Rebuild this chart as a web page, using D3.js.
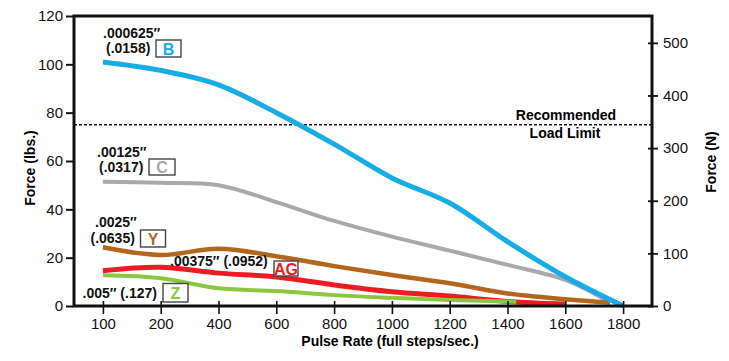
<!DOCTYPE html>
<html>
<head>
<meta charset="utf-8">
<script src="https://cdn.jsdelivr.net/npm/d3@7"></script>
<style>
  body { margin: 0; background: #fff; }
  svg { font-family: "Liberation Sans", Arial, Helvetica, sans-serif; }
</style>
</head>
<body>
<svg id="chart" width="729" height="361"></svg>
<script>
// pulse rate categories (full steps/sec.)
const rates = [100, 200, 400, 600, 800, 1000, 1200, 1400, 1600, 1800];
const lbsTicks = [0, 20, 40, 60, 80, 100, 120];
const newtonTicks = [0, 100, 200, 300, 400, 500];
const loadLimit = 75;

// force curves in lbs
const seriesB = [[100, 101], [200, 97.5], [400, 91.5], [600, 80], [800, 67], [1000, 53], [1200, 42.6], [1400, 26.6], [1600, 12.1], [1800, 0]];
const seriesC = [[100, 51.4], [200, 51], [400, 50], [600, 43], [800, 35.2], [1000, 28.7], [1200, 22.9], [1400, 17], [1600, 10.8], [1745, 2.2]];
const seriesY = [[100, 24.3], [200, 21.1], [400, 23.7], [600, 20.6], [800, 16.5], [1000, 12.8], [1200, 9.4], [1400, 5.2], [1600, 2.8], [1755, 1.4]];
const seriesAG = [[100, 14.6], [200, 16], [400, 13.6], [600, 12], [800, 8.7], [1000, 5.9], [1200, 4.1], [1400, 1.9], [1600, 0.8]];
const seriesZ = [[100, 12.7], [200, 11.5], [400, 7.3], [600, 6.2], [800, 4.5], [1000, 3.4], [1200, 2.5], [1400, 1.9], [1430, 1.8]];

const svg = d3.select('#chart');

const plotLeft = 74, plotRight = 652, plotTop = 16, plotBottom = 306;

const xPoint = d3.scalePoint().domain(rates).range([plotLeft, plotRight]).padding(0.5);
// axis is not linear in rate, so map between the tick positions
const x = d3.scaleLinear().domain(rates).range(rates.map(r => xPoint(r)));
const y = d3.scaleLinear().domain([0, 120]).range([plotBottom, plotTop]);
const yN = d3.scaleLinear().domain([0, 551]).range([plotBottom, plotTop]);

// curves
const line = d3.line()
  .x(d => x(d[0]))
  .y(d => y(d[1]))
  .curve(d3.curveCatmullRom.alpha(0.5));

const curves = [
  { data: seriesC, color: '#a7a9ac', width: 4 },
  { data: seriesY, color: '#b4661c', width: 4.5 },
  { data: seriesAG, color: '#ed1c24', width: 5 },
  { data: seriesZ, color: '#8dc63f', width: 4 },
  { data: seriesB, color: '#17ace6', width: 5 }
];

// dashed load limit
svg.append('line')
  .attr('x1', plotLeft).attr('x2', plotRight)
  .attr('y1', y(loadLimit)).attr('y2', y(loadLimit))
  .attr('stroke', '#111')
  .attr('stroke-width', 1.5)
  .attr('stroke-dasharray', '3,2');

svg.append('text')
  .attr('x', 566).attr('y', 119.5)
  .attr('text-anchor', 'middle')
  .style('font-size', '14px').style('font-weight', 'bold')
  .text('Recommended');
svg.append('text')
  .attr('x', 565).attr('y', 137.5)
  .attr('text-anchor', 'middle')
  .style('font-size', '14px').style('font-weight', 'bold')
  .text('Load Limit');

for (const c of curves) {
  svg.append('path')
    .datum(c.data)
    .attr('d', line)
    .attr('fill', 'none')
    .attr('stroke', c.color)
    .attr('stroke-width', c.width);
}

// frame
svg.append('rect')
  .attr('x', plotLeft).attr('y', plotTop)
  .attr('width', plotRight - plotLeft).attr('height', plotBottom - plotTop)
  .attr('fill', 'none')
  .attr('stroke', '#111')
  .attr('stroke-width', 3);

// left axis
const yAxis = svg.append('g')
  .attr('transform', `translate(${plotLeft - 1},0)`)
  .call(d3.axisLeft(y).tickValues(lbsTicks).tickSize(7).tickPadding(3));
yAxis.select('.domain').remove();
yAxis.selectAll('line').attr('stroke', '#111').attr('stroke-width', 2);
yAxis.selectAll('text').style('font-size', '15px').attr('fill', '#111');

// right axis
const yAxisR = svg.append('g')
  .attr('transform', `translate(${plotRight - 4},0)`)
  .call(d3.axisRight(yN).tickValues(newtonTicks).tickSize(10).tickPadding(5));
yAxisR.select('.domain').remove();
yAxisR.selectAll('line').attr('stroke', '#111').attr('stroke-width', 1.8);
yAxisR.selectAll('text').style('font-size', '15px').attr('fill', '#111');

// bottom axis
const xAxis = svg.append('g')
  .attr('transform', `translate(0,${plotBottom - 5})`)
  .call(d3.axisBottom(xPoint).tickSize(13).tickPadding(4));
xAxis.select('.domain').remove();
xAxis.selectAll('line').attr('stroke', '#111').attr('stroke-width', 1.6);
xAxis.selectAll('text').style('font-size', '15px').attr('fill', '#111');

// axis titles
svg.append('text')
  .attr('x', 390).attr('y', 346)
  .attr('text-anchor', 'middle')
  .style('font-size', '14px').style('font-weight', 'bold')
  .text('Pulse Rate (full steps/sec.)');

svg.append('text')
  .attr('transform', 'translate(35,168) rotate(-90)')
  .attr('text-anchor', 'middle')
  .style('font-size', '14px').style('font-weight', 'bold')
  .text('Force (lbs.)');

svg.append('text')
  .attr('transform', 'translate(716,162) rotate(-90)')
  .attr('text-anchor', 'middle')
  .style('font-size', '14px').style('font-weight', 'bold')
  .text('Force (N)');

// curve labels
const labels = [
  { lines: [['.000625\u2033', 103, 37.5], ['(.0158)', 106, 52.5]], key: 'B', box: [156, 40, 25, 17], color: '#17ace6' },
  { lines: [['.00125\u2033', 97, 156.5], ['(.0317)', 99, 171.5]], key: 'C', box: [149, 159, 26, 16], color: '#a7a9ac' },
  { lines: [['.0025\u2033', 95, 227], ['(.0635)', 90.5, 242.5]], key: 'Y', box: [140.5, 230, 25, 17], color: '#b4661c' },
  { lines: [['.00375\u2033 (.0952)', 170, 266]], key: 'AG', box: [274, 261, 24, 15], color: '#ed1c24' },
  { lines: [['.005\u2033 (.127)', 82.5, 298]], key: 'Z', box: [163, 283.5, 25, 18.5], color: '#8dc63f' }
];

for (const l of labels) {
  for (const t of l.lines) {
    svg.append('text')
      .attr('x', t[1]).attr('y', t[2])
      .style('font-size', '14px').style('font-weight', 'bold')
      .attr('fill', '#111')
      .text(t[0]);
  }
  svg.append('rect')
    .attr('x', l.box[0]).attr('y', l.box[1])
    .attr('width', l.box[2]).attr('height', l.box[3])
    .attr('fill', '#fff')
    .attr('stroke', '#444')
    .attr('stroke-width', 1.4);
  svg.append('text')
    .attr('x', l.box[0] + l.box[2] / 2)
    .attr('y', l.box[1] + l.box[3] / 2 + 6)
    .attr('text-anchor', 'middle')
    .style('font-size', '16px').style('font-weight', 'bold')
    .attr('fill', l.color)
    .text(l.key);
}
</script>
</body>
</html>
